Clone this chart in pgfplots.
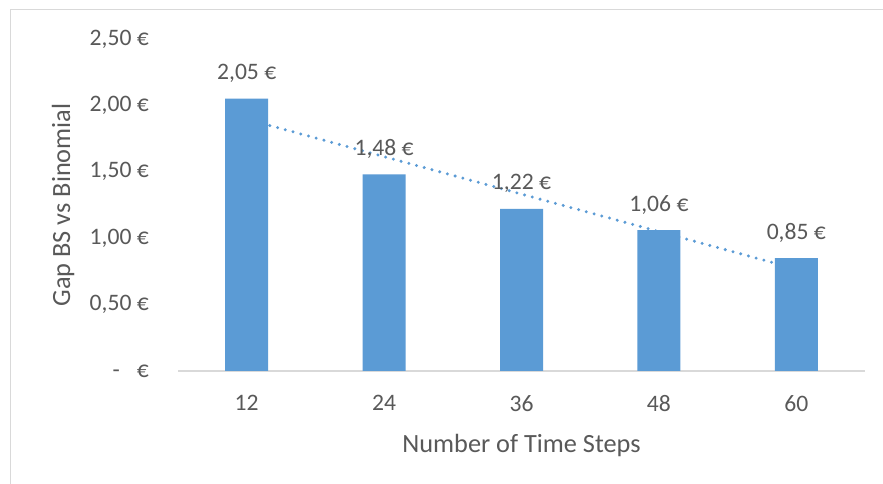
\documentclass[border=0pt]{standalone}
\usepackage{fontspec}
\setmainfont{Carlito}
\usepackage{pgfplots}
\pgfplotsset{compat=1.18}
\definecolor{barblue}{HTML}{5B9BD5}
\definecolor{txt}{HTML}{595959}
\definecolor{framec}{HTML}{D9D9D9}
\begin{document}
\begin{tikzpicture}[x=1bp,y=1bp]
\useasboundingbox (0,0) rectangle (883,484);
\fill[white] (0,0) rectangle (883,484);
\draw[framec, line width=1.5bp] (10.5,0) -- (10.5,474.5) -- (883,474.5);
\begin{axis}[
  at={(178bp,113bp)}, anchor=south west,
  scale only axis, width=687bp, height=332bp,
  xmin=0.5, xmax=5.5, ymin=0, ymax=2.5,
  clip=false,
  axis x line*=bottom, axis y line*=left,
  x axis line style={framec, line width=1.2bp, -},
  y axis line style={draw=none},
  major tick length=0pt, tick style={draw=none},
  xtick={1,2,3,4,5}, xticklabels={12,24,36,48,60},
  ytick={0,0.5,1,1.5,2,2.5},
  yticklabels={{-\hspace{17bp}€},{0,50 €},{1,00 €},{1,50 €},{2,00 €},{2,50 €}},
  xticklabel style={anchor=north, inner sep=0pt, yshift=-24bp, font=\fontsize{23.6bp}{28bp}\selectfont, text=txt},
  yticklabel style={anchor=east, inner sep=0pt, xshift=-29bp, font=\fontsize{23.6bp}{28bp}\selectfont, text=txt},
  xlabel={Number of Time Steps},
  ylabel={Gap BS vs Binomial},
  xlabel style={at={(axis description cs:0.5,-0.244)}, anchor=base, inner sep=0pt, font=\fontsize{26.3bp}{31bp}\selectfont, text=txt},
  ylabel style={at={(axis description cs:-0.157,0.5)}, anchor=base, inner sep=0pt, font=\fontsize{26.3bp}{31bp}\selectfont, text=txt},
]
\addplot[barblue, line width=3.3bp, dash pattern=on 0bp off 8bp, line cap=round] coordinates {(1,1.896) (5,0.768)};
\addplot[ybar, bar width=43bp, fill=barblue, draw=none,
  point meta=explicit symbolic, nodes near coords,
  every node near coord/.append style={anchor=base, inner sep=0pt, yshift=19bp, font=\fontsize{23.6bp}{28bp}\selectfont, text=txt}]
coordinates {(1,2.05) [2,05 €] (2,1.48) [1,48 €] (3,1.22) [1,22 €] (4,1.06) [1,06 €] (5,0.85) [0,85 €]};
\end{axis}
\end{tikzpicture}
\end{document}
